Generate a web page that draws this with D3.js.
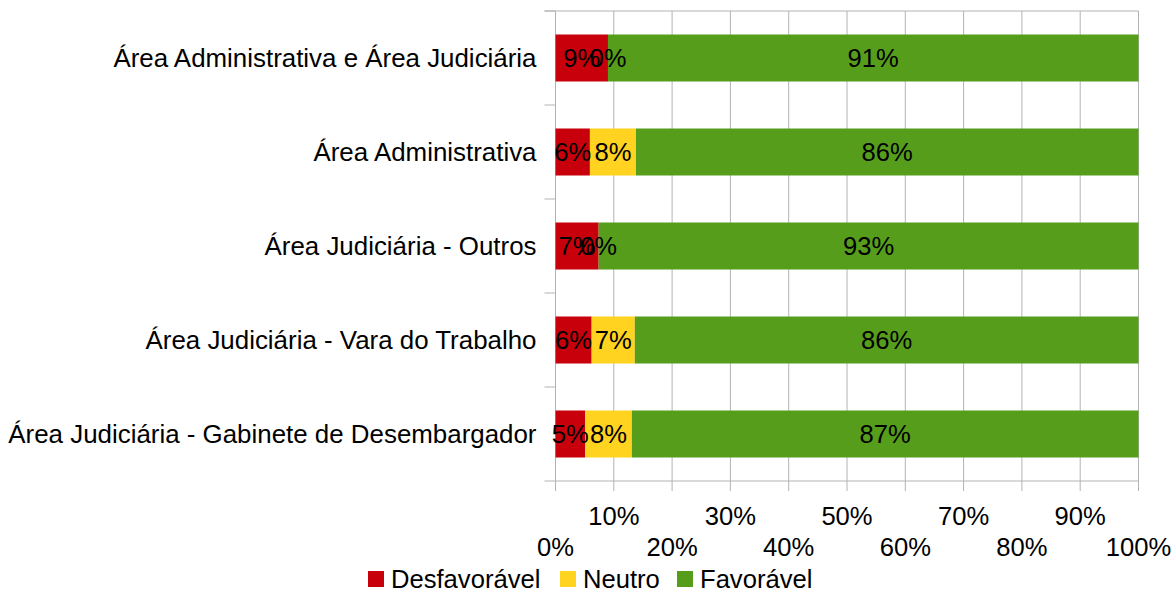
<!DOCTYPE html>
<html><head><meta charset="utf-8">
<script src="https://cdn.jsdelivr.net/npm/d3@7"></script>
<style>body{margin:0;background:#fff}svg{display:block;font-family:"Liberation Sans",Arial,sans-serif}</style>
</head><body><svg id="c" width="1174" height="591"></svg>
<script>
const categories = ["Área Administrativa e Área Judiciária","Área Administrativa","Área Judiciária - Outros","Área Judiciária - Vara do Trabalho","Área Judiciária - Gabinete de Desembargador"];
const seriesNames = ["Desfavorável","Neutro","Favorável"];
const desfavoravel = [9.0, 5.9, 7.4, 6.2, 5.1];
const neutro = [0.0, 7.9, 0.0, 7.4, 8.0];
const favoravel = [91.0, 86.2, 92.6, 86.4, 86.9];
const tickValues = [0,10,20,30,40,50,60,70,80,90,100];
const colors = ["#c8000b","#ffd320","#579d1c"];

(function(){
const svg = d3.select("#c");
const FS = 25.6;
const pL = 555.5, pR = 1138.5, pT = 11, pB = 481;
const x = d3.scaleLinear().domain([0,100]).range([pL,pR]);
const y = d3.scaleBand().domain(categories).range([pT,pB]).paddingInner(0.5).paddingOuter(0.25);
const grid = "#b3b3b3";

svg.append("g").selectAll("line").data(tickValues).join("line")
  .attr("x1",d=>x(d)).attr("x2",d=>x(d)).attr("y1",pT).attr("y2",pB+10)
  .attr("stroke",grid).attr("stroke-width",1);
svg.append("line").attr("x1",pL-11).attr("x2",pR).attr("y1",pT).attr("y2",pT).attr("stroke",grid);
svg.append("line").attr("x1",pL).attr("x2",pR).attr("y1",pB).attr("y2",pB).attr("stroke",grid);
const bounds = categories.map(c=>y(c)-y.step()*0.25).concat([pB]);
svg.append("g").selectAll("line").data(bounds).join("line")
  .attr("x1",pL-11).attr("x2",pL).attr("y1",d=>d).attr("y2",d=>d).attr("stroke",grid);

const rows = categories.map((c,i)=>({cat:c, "Desfavorável":desfavoravel[i], "Neutro":neutro[i], "Favorável":favoravel[i]}));
const stack = d3.stack().keys(seriesNames).offset(d3.stackOffsetExpand)(rows);
const fmt = d3.format(".0%");
stack.forEach((s,si)=>{
  svg.append("g").selectAll("rect").data(s).join("rect")
    .attr("x",d=>x(d[0]*100)).attr("width",d=>x(d[1]*100)-x(d[0]*100))
    .attr("y",d=>y(d.data.cat)).attr("height",y.bandwidth())
    .attr("fill",colors[si]);
});
stack.forEach((s,si)=>{
  svg.append("g").selectAll("text").data(s).join("text")
    .attr("x",d=>(x(d[0]*100)+x(d[1]*100))/2).attr("y",d=>y(d.data.cat)+y.bandwidth()/2)
    .attr("text-anchor","middle").attr("dominant-baseline","central")
    .attr("font-size",FS).attr("fill","#000")
    .text(d=>fmt(d[1]-d[0]));
});

svg.append("g").selectAll("text").data(categories).join("text")
  .attr("x",pL-19).attr("y",d=>y(d)+y.bandwidth()/2)
  .attr("text-anchor","end").attr("dominant-baseline","central")
  .attr("font-size",25.9).attr("fill","#000").text(d=>d);

svg.append("g").selectAll("text").data(tickValues).join("text")
  .attr("x",d=>x(d)).attr("y",(d,i)=> i%2 ? 516 : 547)
  .attr("text-anchor","middle").attr("dominant-baseline","central")
  .attr("font-size",FS).attr("fill","#000").text(d=>d+"%");

const legX = [368, 560, 677];
const lg = svg.append("g");
seriesNames.forEach((n,i)=>{
  lg.append("rect").attr("x",legX[i]).attr("y",571).attr("width",16).attr("height",16).attr("fill",colors[i]);
  lg.append("text").attr("x",legX[i]+23).attr("y",579).attr("dominant-baseline","central")
    .attr("font-size",FS).attr("fill","#000").text(n);
});
})();
</script></body></html>
